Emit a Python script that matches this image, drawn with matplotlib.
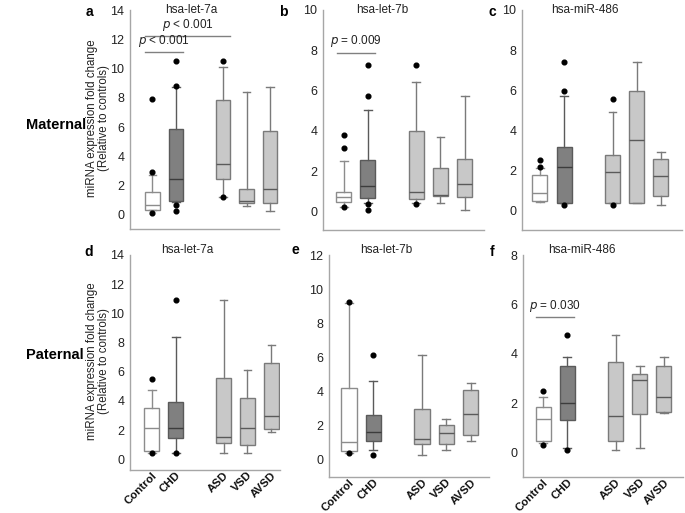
import matplotlib
matplotlib.use("Agg")
import matplotlib.pyplot as plt
from matplotlib.transforms import ScaledTranslation

plt.rcParams['font.family'] = ['Liberation Sans', 'DejaVu Sans']

groups = ['Control', 'CHD', 'ASD', 'VSD', 'AVSD']

# Panel a: maternal hsa-let-7a
a_q1 = [0.35, 0.95, 2.45, 0.8, 0.85]
a_med = [0.7, 2.45, 3.5, 0.95, 1.8]
a_q3 = [1.6, 5.85, 7.85, 1.8, 5.75]
a_lo = [0.35, 0.9, 1.2, 0.6, 0.25]
a_hi = [2.75, 8.75, 10.1, 8.4, 8.75]
a_fl = [[7.9, 2.9, 0.1], [10.5, 8.8, 0.65, 0.25], [10.5, 1.2], [], []]

# Panel b: maternal hsa-let-7b
b_q1 = [0.5, 0.7, 0.62, 0.8, 0.75]
b_med = [0.75, 1.25, 0.95, 0.85, 1.35]
b_q3 = [0.98, 2.55, 3.98, 2.15, 2.6]
b_lo = [0.25, 0.45, 0.45, 0.45, 0.1]
b_hi = [2.5, 5.05, 6.45, 3.7, 5.75]
b_fl = [[3.8, 3.15, 0.25], [7.25, 5.75, 0.4, 0.1], [7.25, 0.4], [], []]

# Panel c: maternal hsa-miR-486
c_q1 = [0.5, 0.4, 0.4, 0.38, 0.75]
c_med = [0.9, 2.2, 1.92, 3.55, 1.72]
c_q3 = [1.8, 3.2, 2.8, 5.95, 2.57]
c_lo = [0.45, 0.4, 0.4, 0.38, 0.27]
c_hi = [2.15, 5.7, 4.93, 7.4, 2.92]
c_fl = [[2.55, 2.2], [7.4, 5.95, 0.27], [5.55, 0.27], [], []]

# Panel d: paternal hsa-let-7a
d_q1 = [0.6, 1.45, 1.1, 1.0, 2.1]
d_med = [2.15, 2.15, 1.55, 2.15, 2.95]
d_q3 = [3.5, 3.9, 5.6, 4.2, 6.6]
d_lo = [0.45, 0.45, 0.45, 0.45, 1.9]
d_hi = [4.75, 8.35, 10.9, 6.1, 7.8]
d_fl = [[5.5, 0.45], [10.9, 0.45], [], [], []]

# Panel e: paternal hsa-let-7b
e_q1 = [0.55, 1.12, 0.95, 0.92, 1.45]
e_med = [1.07, 1.65, 1.25, 1.6, 2.7]
e_q3 = [4.2, 2.62, 2.97, 2.05, 4.1]
e_lo = [0.4, 0.57, 0.27, 0.6, 1.08]
e_hi = [9.2, 4.65, 6.15, 2.38, 4.48]
e_fl = [[9.25, 0.38], [6.15, 0.27], [], [], []]

# Panel f: paternal hsa-miR-486
f_q1 = [0.47, 1.3, 0.47, 1.55, 1.65]
f_med = [1.35, 2.0, 1.5, 2.92, 2.25]
f_q3 = [1.85, 3.5, 3.65, 3.2, 3.52]
f_lo = [0.4, 0.2, 0.12, 0.2, 1.6]
f_hi = [2.25, 3.85, 4.75, 3.5, 3.85]
f_fl = [[2.48, 0.3], [4.75, 0.12], [], [], []]

titles = ['hsa-let-7a', 'hsa-let-7b', 'hsa-miR-486',
          'hsa-let-7a', 'hsa-let-7b', 'hsa-miR-486']
panel_letters = ['a', 'b', 'c', 'd', 'e', 'f']
ymax = [14, 10, 10, 14, 12, 8]

# p-value annotations
p_panel = ['a', 'a', 'b', 'f']
p_from = ['Control', 'Control', 'Control', 'Control']
p_to = ['CHD', 'ASD', 'CHD', 'CHD']
p_y = [11.1, 12.2, 7.87, 5.48]
p_val = ['< 0.001', '< 0.001', '= 0.009', '= 0.030']

data = {
    'a': (a_q1, a_med, a_q3, a_lo, a_hi, a_fl),
    'b': (b_q1, b_med, b_q3, b_lo, b_hi, b_fl),
    'c': (c_q1, c_med, c_q3, c_lo, c_hi, c_fl),
    'd': (d_q1, d_med, d_q3, d_lo, d_hi, d_fl),
    'e': (e_q1, e_med, e_q3, e_lo, e_hi, e_fl),
    'f': (f_q1, f_med, f_q3, f_lo, f_hi, f_fl),
}

W, H = 685, 513
fig = plt.figure(figsize=(W / 100, H / 100), dpi=100)

rects = {
    'a': (130, 279, 10, 229),
    'b': (323, 484, 10, 230),
    'c': (522, 682, 10, 230),
    'd': (130, 280, 255, 470),
    'e': (329, 489, 255, 477),
    'f': (523, 683, 255, 477),
}
ymins = {'a': -0.96, 'b': -0.91, 'c': -0.95, 'd': -0.73, 'e': -1.0, 'f': -0.99}
xlims = {'a': (-0.95, 5.38), 'b': (-0.86, 5.8), 'c': (-0.74, 5.87),
         'd': (-0.91, 5.36), 'e': (-0.82, 5.75), 'f': (-0.83, 5.79)}
title_x = {'a': 0.41, 'b': 0.37, 'c': 0.39, 'd': 0.38, 'e': 0.355, 'f': 0.366}
letter_pos = {'a': (89, 12), 'b': (283, 12), 'c': (492, 12),
              'd': (89, 252), 'e': (295, 250), 'f': (492, 252)}

positions = [0, 1, 3, 4, 5]
faces = ['white', '#808080', '#c8c8c8', '#c8c8c8', '#c8c8c8']
edges = ['#8c8c8c', '#5a5a5a', '#7a7a7a', '#7a7a7a', '#7a7a7a']
medcols = ['#8c8c8c', '#3c3c3c', '#5a5a5a', '#5a5a5a', '#5a5a5a']
spine_col = '#a6a6a6'

for i, key in enumerate(['a', 'b', 'c', 'd', 'e', 'f']):
    l, r, t, b = rects[key]
    ax = fig.add_axes([l / W, 1 - b / H, (r - l) / W, (b - t) / H])
    q1, med, q3, lo, hi, fl = data[key]
    for j in range(5):
        st = [dict(med=med[j], q1=q1[j], q3=q3[j], whislo=lo[j], whishi=hi[j],
                   fliers=fl[j], label=groups[j])]
        ax.bxp(st, positions=[positions[j]], widths=0.62, patch_artist=True,
               showfliers=True,
               boxprops=dict(facecolor=faces[j], edgecolor=edges[j], linewidth=1.0),
               whiskerprops=dict(color=edges[j], linewidth=1.0),
               capprops=dict(color=edges[j], linewidth=1.0),
               medianprops=dict(color=medcols[j], linewidth=1.0),
               flierprops=dict(marker='o', markerfacecolor='black',
                               markeredgecolor='black', markersize=3.4),
               capwidths=0.32)
    ax.set_ylim(ymins[key], ymax[i])
    ax.set_xlim(*xlims[key])
    ax.set_yticks(range(0, ymax[i] + 1, 2))
    ax.tick_params(axis='y', length=0, labelsize=9, colors='#222222', pad=4)
    for s in ['top', 'right']:
        ax.spines[s].set_visible(False)
    for s in ['left', 'bottom']:
        ax.spines[s].set_color(spine_col)
        ax.spines[s].set_linewidth(1.0)
    if key in ('d', 'e', 'f'):
        ax.set_xticks(positions)
        labs = ax.set_xticklabels(groups, rotation=45, ha='right', va='top',
                                  rotation_mode='anchor', fontweight='bold',
                                  fontsize=8.2, color='#111111')
        off = ScaledTranslation(6 / 100, 3 / 100, fig.dpi_scale_trans)
        for lab in labs:
            lab.set_transform(lab.get_transform() + off)
        ax.tick_params(axis='x', length=0, pad=0)
    else:
        ax.set_xticks([])
    ty = 1.0 if key in ('a', 'b', 'c') else 1.022
    ax.text(title_x[key], ty, titles[i], transform=ax.transAxes,
            ha='center', va='center', fontsize=8.5, color='#222222')
    lx, ly = letter_pos[key]
    fig.text(lx / W, 1 - ly / H, panel_letters[i], fontsize=10,
             fontweight='bold', ha='center', va='center')
    for k in range(len(p_panel)):
        if p_panel[k] != key:
            continue
        x0 = positions[groups.index(p_from[k])] - 0.3
        x1 = positions[groups.index(p_to[k])] + 0.3
        ax.plot([x0, x1], [p_y[k], p_y[k]], color='#808080', lw=1.0)
        ax.annotate(r'$\it{p}$ ' + p_val[k], xy=((x0 + x1) / 2, p_y[k]),
                    xytext=(0, 2.5), textcoords='offset points',
                    ha='center', va='bottom', fontsize=8.5, color='#222222')

for yc in (118, 361):
    fig.text(98 / W, 1 - yc / H,
             'miRNA expression fold change\n(Relative to controls)',
             rotation=90, ha='center', va='center', fontsize=8.3,
             color='#222222', linespacing=1.1, multialignment='center')

fig.text(56 / W, 1 - 125 / H, 'Maternal', fontsize=10.5, fontweight='bold',
         ha='center', va='center')
fig.text(55 / W, 1 - 355 / H, 'Paternal', fontsize=10.5, fontweight='bold',
         ha='center', va='center')

fig.savefig('out.png', dpi=100)
